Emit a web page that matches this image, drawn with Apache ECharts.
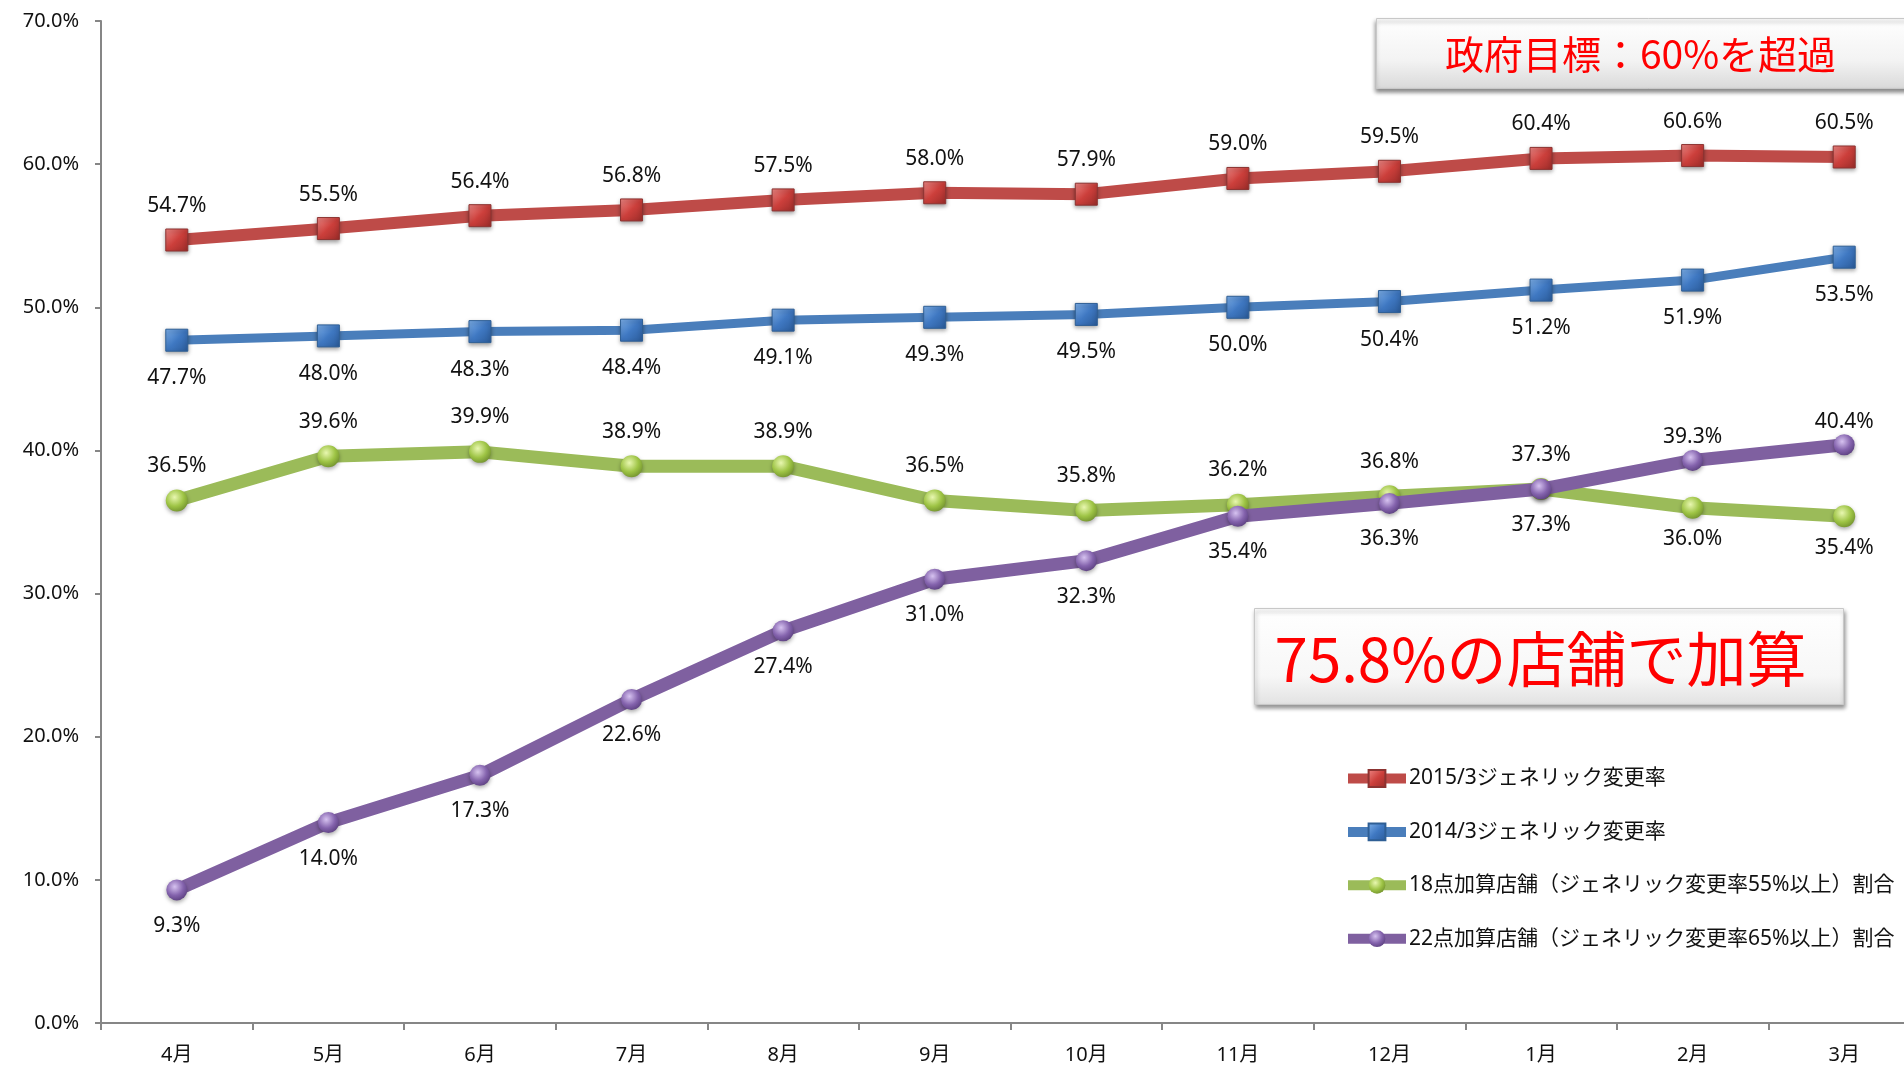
<!DOCTYPE html>
<html>
<head>
<meta charset="utf-8">
<script src="https://cdn.jsdelivr.net/npm/echarts@6/dist/echarts.min.js"></script>
<style>
html,body{margin:0;padding:0;background:#fff;overflow:hidden;}
#chart{width:1920px;height:1070px;}
</style>
</head>
<body>
<div id="chart"></div>
<script>
// ---- data ----
const months = ['4月','5月','6月','7月','8月','9月','10月','11月','12月','1月','2月','3月'];
const seriesNames = [
  '2015/3ジェネリック変更率',
  '2014/3ジェネリック変更率',
  '18点加算店舗（ジェネリック変更率55%以上）割合',
  '22点加算店舗（ジェネリック変更率65%以上）割合'
];
const rate2015 = [54.7, 55.5, 56.4, 56.8, 57.5, 58.0, 57.9, 59.0, 59.5, 60.4, 60.6, 60.5];
const rate2014 = [47.7, 48.0, 48.3, 48.4, 49.1, 49.3, 49.5, 50.0, 50.4, 51.2, 51.9, 53.5];
const share18 = [36.5, 39.6, 39.9, 38.9, 38.9, 36.5, 35.8, 36.2, 36.8, 37.3, 36.0, 35.4];
const share22 = [9.3, 14.0, 17.3, 22.6, 27.4, 31.0, 32.3, 35.4, 36.3, 37.3, 39.3, 40.4];
const yTicks = [0, 10, 20, 30, 40, 50, 60, 70];
const note1 = '政府目標：60%を超過';
const note2 = '75.8%の店舗で加算';
// indices whose label sits on the other side
const share18Below = [10, 11];
const share22Above = [10, 11];

const FONT = '"Noto Sans", "Noto Sans CJK JP", sans-serif';

function sq(top, base, dark) {
  return {type:'linear', x:0, y:0, x2:1, y2:1, colorStops:[
    {offset:0, color:top},{offset:0.5, color:base},{offset:1, color:dark}]};
}
function ball(light, base, dark) {
  return {type:'radial', x:0.4, y:0.35, r:0.75, colorStops:[
    {offset:0, color:light},{offset:0.55, color:base},{offset:1, color:dark}]};
}

function mkData(vals, posFn) {
  return vals.map((v, i) => {
    const p = posFn(i);
    return {value: v, label: {position: p.pos, distance: p.dist}};
  });
}

const labelBase = {show:true, fontSize:21, color:'#111', fontFamily:FONT,
  formatter: p => p.value.toFixed(1) + '%'};

const chart = echarts.init(document.getElementById('chart'));
chart.setOption({
  animation:false,
  backgroundColor:'#fff',
  grid:{left:101, top:21, bottom:47, right:0, containLabel:false},
  legend:{
    orient:'vertical', left:1338, top:763,
    itemWidth:58, itemHeight:21, itemGap:32.4,
    lineStyle:{width:10},
    textStyle:{fontSize:21, color:'#111', fontFamily:FONT, padding:[0,0,0,-2]},
    data:seriesNames
  },
  xAxis:{
    type:'category', data:months, boundaryGap:true,
    axisLine:{lineStyle:{color:'#868686', width:2}},
    axisTick:{show:true, length:7, lineStyle:{color:'#868686', width:2}},
    axisLabel:{fontSize:20, color:'#111', fontFamily:FONT, margin:22}
  },
  yAxis:{
    type:'value', min:yTicks[0], max:yTicks[yTicks.length-1], interval:10,
    splitLine:{show:false},
    axisLine:{show:true, lineStyle:{color:'#868686', width:2}},
    axisTick:{show:true, length:6, lineStyle:{color:'#868686', width:2}},
    axisLabel:{fontSize:20, color:'#111', fontFamily:FONT, margin:22,
      formatter: v => v.toFixed(1) + '%'}
  },
  series:[
    {
      name:seriesNames[1], type:'line', data:mkData(rate2014, () => ({pos:'bottom', dist:16})),
      symbol:'rect', symbolSize:22,
      lineStyle:{color:'#4A7EBB', width:9},
      itemStyle:{color:sq('#7fb2ec','#3f78c2','#2a5a98'), borderColor:'#2f5f95', borderWidth:1,
        shadowBlur:4, shadowColor:'rgba(0,0,0,0.35)', shadowOffsetY:2},
      label:labelBase, z:2
    },
    {
      name:seriesNames[0], type:'line', data:mkData(rate2015, () => ({pos:'top', dist:12})),
      symbol:'rect', symbolSize:22,
      lineStyle:{color:'#BE4B48', width:12},
      itemStyle:{color:sq('#f08a87','#cc3f3b','#9a2c29'), borderColor:'#8c3331', borderWidth:1,
        shadowBlur:4, shadowColor:'rgba(0,0,0,0.35)', shadowOffsetY:2},
      label:labelBase, z:3
    },
    {
      name:seriesNames[2], type:'line',
      data:mkData(share18, i => share18Below.includes(i) ? {pos:'bottom', dist:10} : {pos:'top', dist:13}),
      symbol:'circle', symbolSize:22,
      lineStyle:{color:'#9BBB59', width:13},
      itemStyle:{color:ball('#e8f7b0','#9ec445','#6b8a2a'), borderWidth:0,
        shadowBlur:4, shadowColor:'rgba(0,0,0,0.35)', shadowOffsetY:2},
      label:labelBase, z:4
    },
    {
      name:seriesNames[3], type:'line',
      data:mkData(share22, i => share22Above.includes(i) ? {pos:'top', dist:2} : {pos:'bottom', dist:15}),
      symbol:'circle', symbolSize:21,
      lineStyle:{color:'#7F60A0', width:13},
      itemStyle:{color:ball('#d6c2f0','#8463ad','#553a78'), borderWidth:0,
        shadowBlur:4, shadowColor:'rgba(0,0,0,0.35)', shadowOffsetY:2},
      label:labelBase, z:5
    }
  ],
  graphic:[
    {
      type:'group', left:1376, top:18, z:100,
      children:[
        {type:'rect', shape:{x:0, y:0, width:560, height:70},
          style:{fill:{type:'linear', x:0, y:0, x2:0, y2:1, colorStops:[
            {offset:0, color:'#ffffff'},{offset:0.6, color:'#f3f3f3'},{offset:1, color:'#d9d9d9'}]},
            stroke:'#c8c8c8', lineWidth:1,
            shadowBlur:4, shadowOffsetX:-1, shadowOffsetY:3, shadowColor:'rgba(0,0,0,0.45)'}},
        {type:'text', x:264, y:36, style:{text:note1, fill:'#ff0000', fontSize:39,
          fontFamily:'"Noto Sans CJK JP", sans-serif', align:'center', verticalAlign:'middle'}}
      ]
    },
    {
      type:'group', left:1254, top:608, z:100,
      children:[
        {type:'rect', shape:{x:0, y:0, width:589, height:96},
          style:{fill:{type:'linear', x:0, y:0, x2:0, y2:1, colorStops:[
            {offset:0, color:'#ffffff'},{offset:0.7, color:'#f7f7f7'},{offset:1, color:'#e2e2e2'}]},
            stroke:'#c8c8c8', lineWidth:1,
            shadowBlur:4, shadowOffsetX:1, shadowOffsetY:3, shadowColor:'rgba(0,0,0,0.4)'}},
        {type:'text', x:286, y:51, style:{text:note2, fill:'#ff0000', fontSize:60,
          fontFamily:'"Noto Sans CJK JP", sans-serif', align:'center', verticalAlign:'middle'}}
      ]
    }
  ]
});
</script>
</body>
</html>
